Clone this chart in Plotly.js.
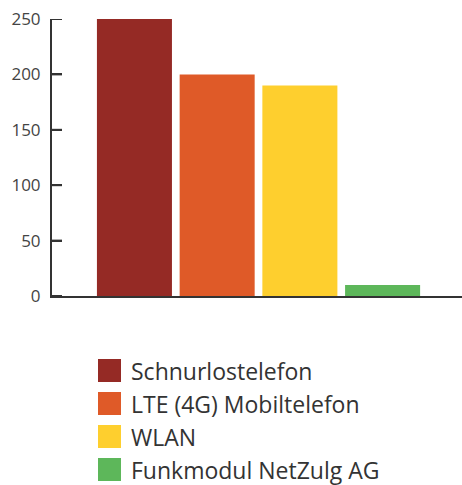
<!DOCTYPE html>
<html>
<head>
<meta charset="utf-8">
<script src="https://cdn.plot.ly/plotly-3.0.1.min.js"></script>
<style>
html,body{margin:0;padding:0;background:#fff;}
#chart{width:462px;height:485px;}
</style>
</head>
<body>
<div id="chart"></div>
<script>
// Data
const seriesNames = ["Schnurlostelefon", "LTE (4G) Mobiltelefon", "WLAN", "Funkmodul NetZulg AG"];
const seriesValues = [250, 200, 190, 10];
const seriesColors = ["#952A25", "#DF5A28", "#FECF2E", "#5DB75A"];
const category = ["Geräte"];
const yTickValues = [0, 50, 100, 150, 200, 250];

const W = 462, H = 485;
const M = {l: 52, r: 0, t: 19, b: 189};
const plotW = W - M.l - M.r, plotH = H - M.t - M.b;
const px2x = p => (p - M.l) / plotW;
const py2y = p => (H - M.b - p) / plotH;

const traces = seriesNames.map((n, i) => ({
  type: 'bar',
  name: n,
  x: category,
  y: [seriesValues[i]],
  marker: {color: seriesColors[i], line: {width: 0}},
  showlegend: false,
  hoverinfo: 'name+y'
}));

const shapes = [];
const annotations = [];

// Inward tick marks on the y axis (placed through the y axis scale)
yTickValues.forEach(v => {
  shapes.push({
    type: 'line', xref: 'paper', yref: 'y',
    x0: 0, x1: 10 / plotW, y0: v, y1: v,
    line: {color: '#333', width: 2}
  });
});

// Custom legend (large swatches)
seriesNames.forEach((n, i) => {
  const top = 359 + i * 33;
  shapes.push({
    type: 'rect', xref: 'paper', yref: 'paper',
    x0: px2x(98), x1: px2x(121), y0: py2y(top + 23), y1: py2y(top),
    fillcolor: seriesColors[i], line: {width: 0}
  });
  annotations.push({
    xref: 'paper', yref: 'paper', x: px2x(129), y: py2y(top + 12),
    xanchor: 'left', yanchor: 'middle', showarrow: false,
    text: n, font: {family: 'Open Sans, sans-serif', size: 23, color: '#333'}
  });
});

const layout = {
  width: W, height: H,
  margin: M,
  paper_bgcolor: '#fff', plot_bgcolor: '#fff',
  barmode: 'group',
  bargap: 0.193,
  bargroupgap: 0.093,
  showlegend: false,
  xaxis: {
    type: 'category',
    range: [-0.5037, 0.4963],
    showticklabels: false,
    ticks: '',
    showgrid: false,
    zeroline: false,
    showline: true,
    linecolor: '#333',
    linewidth: 2,
    fixedrange: true
  },
  yaxis: {
    range: [0, 250],
    tickvals: yTickValues,
    ticktext: yTickValues.map(String),
    ticks: 'inside',
    ticklen: 10,
    tickwidth: 2,
    tickcolor: '#333',
    showline: true,
    linecolor: '#333',
    linewidth: 2,
    showgrid: false,
    zeroline: false,
    ticklabelstandoff: 6,
    tickfont: {family: 'Open Sans, sans-serif', size: 17, color: '#444'},
    fixedrange: true
  },
  shapes: shapes,
  annotations: annotations
};

Plotly.newPlot('chart', traces, layout, {displayModeBar: false, staticPlot: true});
</script>
</body>
</html>
